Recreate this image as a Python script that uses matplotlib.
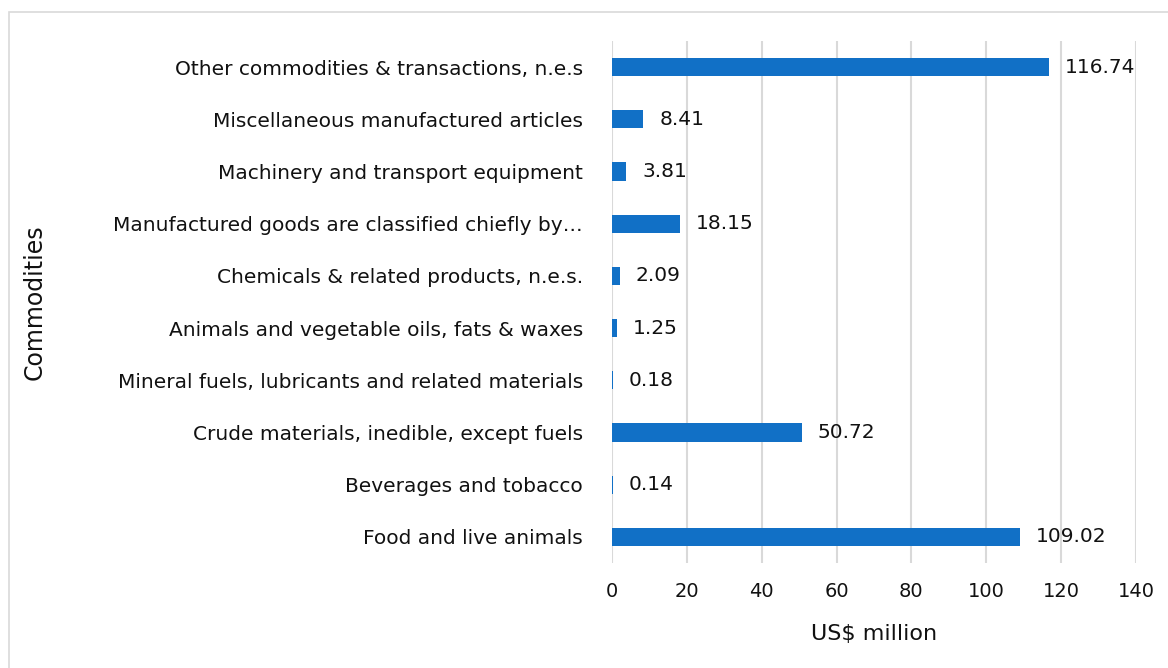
import matplotlib.pyplot as plt
from matplotlib.patches import Rectangle

commodities = [
    'Food and live animals',
    'Beverages and tobacco',
    'Crude materials, inedible, except fuels',
    'Mineral fuels, lubricants and related materials',
    'Animals and vegetable oils, fats & waxes',
    'Chemicals & related products, n.e.s.',
    'Manufactured goods are classified chiefly by\u2026',
    'Machinery and transport equipment',
    'Miscellaneous manufactured articles',
    'Other commodities & transactions, n.e.s',
]
values = [109.02, 0.14, 50.72, 0.18, 1.25, 2.09, 18.15, 3.81, 8.41, 116.74]
x_ticks = [0, 20, 40, 60, 80, 100, 120, 140]

plt.rcParams['font.family'] = ['DejaVu Sans']

fig = plt.figure(figsize=(11.68, 6.68), dpi=100)
fig.patches.append(Rectangle((9 / 1168, -0.01), 1.02, 1 - 12 / 668 + 0.01,
                             transform=fig.transFigure, fill=False,
                             edgecolor='#d9d9d9', linewidth=1.2))
ax = fig.add_axes([612 / 1168, 1 - 563 / 668, 524 / 1168, 522 / 668])

pos = range(len(commodities))
bars = ax.barh(pos, values, height=0.35, color='#1170C6', zorder=3)
for b, v in zip(bars, values):
    ax.text(v + 4.2, b.get_y() + b.get_height() / 2, f'{v:.2f}',
            va='center', ha='left', fontsize=14.5, color='#111111')

ax.set_xlim(0, 140)
ax.set_ylim(-0.5, len(commodities) - 0.5)
ax.set_xticks(x_ticks)
ax.set_yticks(list(pos))
ax.set_yticklabels(commodities)
ax.tick_params(axis='both', length=0, colors='#111111')
ax.tick_params(axis='y', pad=21, labelsize=14.5)
ax.tick_params(axis='x', pad=14, labelsize=14)
ax.xaxis.grid(True, color='#d9d9d9', linewidth=1.5, zorder=0)
for s in ax.spines.values():
    s.set_visible(False)

ax.set_xlabel('US$ million', fontsize=16, color='#111111', labelpad=16)
fig.text(35 / 1168, 1 - 302 / 668, 'Commodities', rotation=90,
         va='center', ha='center', fontsize=17, color='#111111')

plt.savefig('out.png', dpi=100)
